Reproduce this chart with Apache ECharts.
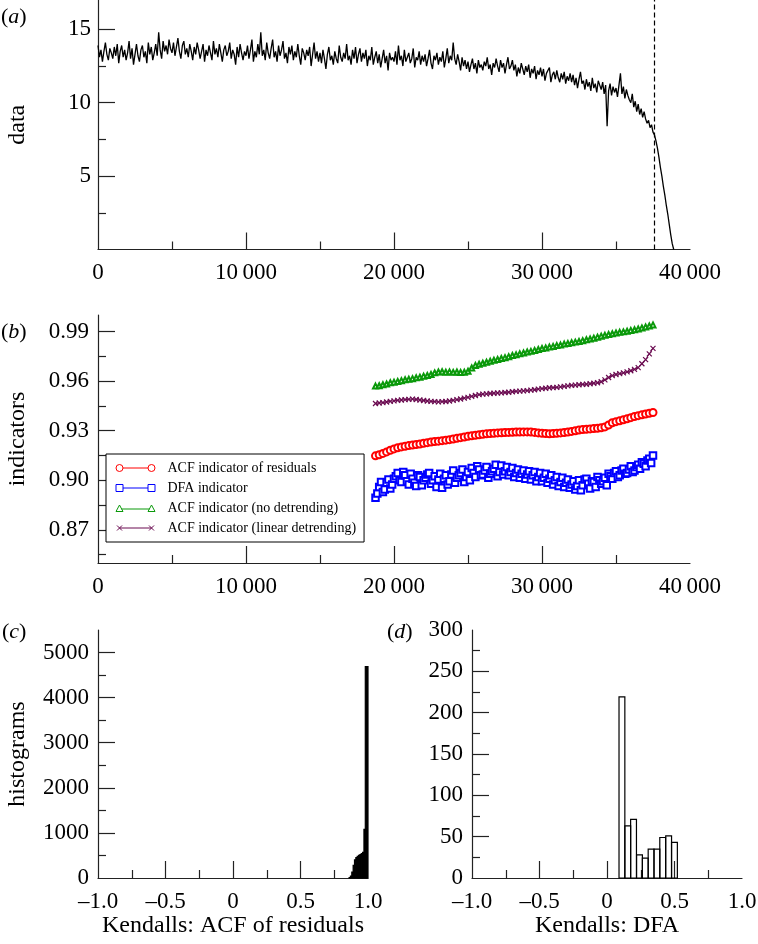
<!DOCTYPE html>
<html>
<head>
<meta charset="utf-8">
<script src="https://cdn.jsdelivr.net/npm/echarts@6/dist/echarts.min.js"></script>
<style>html,body{margin:0;padding:0;background:#fff;}#c{width:758px;height:944px;}</style>
</head>
<body>
<div id="c"></div>
<script>
// ---------- DATA ----------
// (a) time series, sampled every 100 time units starting at 0
const seriesTimeStart = 0;
const seriesTimeStep = 100;
const seriesValues = [
13.9,13.1,13.6,12.8,13.5,14.1,13.3,12.9,13.7,13.4,
13.0,13.8,13.2,14.0,12.7,13.5,13.9,13.1,13.6,12.9,
13.4,14.2,13.0,13.7,12.6,13.3,14.0,13.2,12.8,13.6,
13.9,13.1,13.5,12.7,14.1,13.3,13.8,12.9,13.4,14.0,
13.2,14.8,13.6,13.0,14.2,13.5,13.9,13.3,14.3,13.7,
13.4,14.1,13.2,13.8,14.4,13.5,13.0,13.9,14.2,13.3,
13.7,13.1,14.0,13.5,12.9,13.8,13.3,14.1,13.6,13.0,
13.5,14.0,12.8,13.6,13.2,13.9,13.4,12.9,14.2,13.3,
13.7,13.1,14.0,13.4,12.8,13.6,13.9,13.2,13.5,14.1,
13.0,13.6,13.3,12.6,13.8,13.1,14.0,13.4,12.9,13.5,
13.2,13.9,13.0,13.6,14.3,12.8,13.5,13.1,14.0,13.3,
14.8,13.2,13.6,12.9,14.1,13.4,13.0,13.7,14.3,13.1,
13.5,12.8,13.9,13.2,13.6,14.2,13.0,13.4,12.7,13.8,
13.3,13.9,12.9,13.5,13.1,14.0,13.2,12.6,13.7,13.4,
12.9,13.6,13.2,13.8,12.5,13.3,14.1,13.0,13.5,12.8,
13.4,12.7,13.6,13.0,12.3,13.3,13.8,12.9,13.2,12.6,
13.5,13.0,12.7,13.9,13.1,12.8,13.4,13.0,14.0,12.9,
13.2,12.6,13.6,13.0,13.8,12.7,13.3,13.7,12.8,13.4,
13.0,13.6,12.5,13.2,12.9,13.8,12.6,13.1,13.5,12.7,
13.3,12.4,13.0,13.6,12.7,13.2,12.2,13.4,12.9,13.1,
12.8,13.5,12.6,13.9,12.9,13.2,12.5,13.6,12.8,13.1,
13.4,12.7,13.0,13.7,12.4,13.1,12.9,13.5,12.6,13.2,
12.8,13.3,12.5,13.0,13.6,12.7,12.3,13.2,12.9,13.4,
12.6,13.1,12.8,13.5,12.4,13.0,13.7,12.7,13.2,12.9,
14.1,13.0,12.6,13.3,12.8,12.2,13.1,12.5,12.9,12.3,
12.8,12.1,12.6,13.0,12.3,12.7,12.0,12.9,12.4,12.6,
12.2,12.8,12.5,13.1,12.3,12.6,11.9,12.7,12.4,13.0,
12.5,12.1,12.9,12.4,12.7,12.0,12.6,13.1,12.3,12.5,
12.9,12.2,12.6,11.8,12.4,12.0,12.7,12.3,11.9,12.5,
12.1,12.6,11.7,12.3,12.0,12.5,11.6,12.2,11.9,12.4,
11.8,12.3,11.5,12.0,11.9,12.4,11.4,11.9,12.1,11.6,
12.2,11.7,11.4,12.0,11.6,12.1,11.3,11.8,11.5,12.0,
11.4,11.9,11.2,11.7,11.0,11.6,12.1,11.3,11.5,10.9,
11.6,11.1,11.4,10.8,11.7,11.0,11.3,10.7,11.5,11.2,
10.9,11.4,10.6,11.2,8.4,10.8,11.3,10.5,11.1,10.7,
11.0,10.4,11.2,12.0,10.6,11.1,10.3,10.9,10.5,10.2,
10.0,10.6,9.7,10.1,9.4,9.9,9.2,9.6,9.0,9.4,
8.9,8.6,8.8,8.3,8.5,8.0,7.8,7.4,6.9,6.3,
5.6,5.0,4.3,3.7,3.0,2.4,1.7,1.0,0.4,0.0
];
const transitionTime = 37570;

// (b) indicators, evaluated every 250 time units starting at 18750
const indicatorTimeStart = 18750;
const indicatorTimeStep = 250;
const acfResiduals = [
.9148,.9155,.9163,.9172,.9182,.9190,.9197,.9202,.9206,.9210,
.9213,.9217,.9220,.9224,.9228,.9232,.9235,.9237,.9240,.9243,
.9246,.9250,.9254,.9258,.9262,.9266,.9270,.9273,.9276,.9279,
.9281,.9283,.9285,.9287,.9288,.9289,.9290,.9291,.9292,.9292,
.9293,.9293,.9292,.9290,.9287,.9285,.9283,.9282,.9283,.9285,
.9287,.9289,.9292,.9296,.9300,.9304,.9307,.9309,.9311,.9313,
.9315,.9318,.9323,.9335,.9348,.9355,.9360,.9366,.9372,.9379,
.9386,.9391,.9396,.9401,.9406,.9410
];
// DFA indicator, evaluated every 125 time units starting at 18750
const dfaTimeStep = 125;
const dfaIndicator = [
.8895,.8920,.8960,.8990,.8930,.8945,.8985,.9005,.8950,.8975,
.9010,.9025,.9045,.9000,.8990,.9050,.9030,.8995,.8975,.9040,
.9010,.8985,.8965,.9030,.9020,.8970,.9000,.9015,.9035,.9045,
.8980,.9000,.9025,.8960,.9005,.9040,.8955,.9010,.9030,.8975,
.8995,.9035,.9060,.8985,.9015,.9030,.9045,.9065,.8990,.9020,
.9050,.9000,.9075,.9045,.9020,.9085,.9065,.9030,.9035,.9060,
.9080,.9015,.9040,.9055,.9070,.9095,.9025,.9050,.9090,.9035,
.9055,.9080,.9030,.9050,.9075,.9020,.9045,.9065,.9015,.9040,
.9060,.9010,.9035,.9055,.9005,.9030,.9050,.8995,.9020,.9045,
.8995,.9015,.9040,.8985,.9010,.9030,.8975,.9000,.9020,.8965,
.8990,.9015,.8960,.8985,.9005,.8955,.8975,.8995,.8945,.8965,
.9000,.8940,.8970,.9005,.9010,.8980,.8950,.8995,.8990,.8960,
.9020,.9000,.8980,.8995,.9015,.8970,.9040,.9025,.9010,.9045,
.9055,.9020,.9030,.9060,.9070,.9040,.9045,.9065,.9085,.9050,
.9060,.9080,.9095,.9070,.9110,.9100,.9085,.9120,.9130,.9105,
.9150
];
const acfNoDetrending = [
.9570,.9572,.9578,.9583,.9590,.9594,.9598,.9603,.9608,.9611,
.9615,.9620,.9624,.9630,.9634,.9640,.9650,.9655,.9657,.9654,
.9656,.9653,.9655,.9652,.9654,.9660,.9680,.9695,.9702,.9708,
.9714,.9720,.9726,.9731,.9737,.9742,.9748,.9755,.9759,.9765,
.9770,.9776,.9780,.9786,.9791,.9797,.9800,.9806,.9810,.9815,
.9818,.9824,.9827,.9832,.9836,.9840,.9845,.9850,.9855,.9860,
.9866,.9872,.9877,.9882,.9887,.9891,.9895,.9898,.9902,.9907,
.9911,.9916,.9922,.9928,.9934,.9940
];
const acfLinearDetrending = [
.9465,.9468,.9470,.9474,.9478,.9481,.9484,.9486,.9488,.9490,
.9491,.9489,.9486,.9483,.9480,.9478,.9476,.9475,.9476,.9477,
.9480,.9484,.9488,.9492,.9497,.9502,.9508,.9513,.9518,.9521,
.9523,.9525,.9527,.9528,.9529,.9531,.9533,.9536,.9538,.9540,
.9541,.9543,.9546,.9548,.9552,.9555,.9557,.9560,.9561,.9562,
.9565,.9568,.9571,.9574,.9576,.9578,.9580,.9581,.9584,.9587,
.9590,.9596,.9608,.9622,.9633,.9640,.9645,.9650,.9656,.9663,
.9671,.9682,.9705,.9730,.9765,.9798
];
const legendNames = ['ACF indicator of residuals','DFA indicator','ACF indicator (no detrending)','ACF indicator (linear detrending)'];

// (c) histogram of Kendall tau, ACF of residuals
const kendallAcfBinStart = [0.86,0.87,0.88,0.89,0.90,0.91,0.92,0.93,0.94,0.95,0.96,0.97,0.98,0.99];
const kendallAcfBinWidth = 0.01;
const kendallAcfCounts = [10,40,130,280,400,450,480,500,520,540,570,1080,4690,4690];

// (d) histogram of Kendall tau, DFA
const kendallDfaBinStart = [0.089,0.132,0.175,0.219,0.262,0.305,0.348,0.391,0.435,0.478];
const kendallDfaBinWidth = 0.0432;
const kendallDfaCounts = [219,63,71,28,24,35,35,49,51,43];

// axis ticks
const timeLabels = [0,10000,20000,30000,40000];
const timeTicks = [10000,20000,30000];
const dataLabels = [5,10,15], dataMinor = [2.5,7.5,12.5];
const indLabels = [0.87,0.90,0.93,0.96,0.99], indMinor = [0.855,0.885,0.915,0.945,0.975];
const kLabels = [-1,-0.5,0,0.5,1], kTicks = [-0.5,0,0.5];
const histCLabels = [0,1000,2000,3000,4000,5000], histCMajor = [1000,2000,3000,4000,5000], histCMinor = [500,1500,2500,3500,4500];
const histDLabels = [0,50,100,150,200,250,300], histDMajor = [50,100,150,200,250], histDMinor = [25,75,125,175,225,275];

// ---------- CHART ----------
const FONT = 'Liberation Serif';
const AX = '#222';
const axLine = {color: AX, width: 1.2};
const RED = '#ff0000', BLUE = '#0000ff', GREEN = '#0a990a', PURPLE = '#6a0a50';

function yAxes(grid, min, max, labels, major, minor, name, fmt, margin) {
  return [{
    type: 'value', gridIndex: grid, position: 'left', min: min, max: max,
    name: name, nameLocation: 'middle', nameGap: 68,
    nameTextStyle: {fontFamily: FONT, fontSize: 24, color: '#000'},
    axisLine: {show: true, onZero: false, lineStyle: axLine},
    axisTick: {show: true, inside: true, length: 17, customValues: major, lineStyle: axLine},
    axisLabel: {show: true, customValues: labels, margin: margin, fontFamily: FONT, fontSize: 23, color: '#000', formatter: fmt},
    splitLine: {show: false}
  }, {
    type: 'value', gridIndex: grid, position: 'left', min: min, max: max,
    axisLine: {show: false, onZero: false},
    axisTick: {show: true, inside: true, length: 8, customValues: minor, lineStyle: axLine},
    axisLabel: {show: false}, splitLine: {show: false}
  }];
}
function xAxis(grid, min, max, interval, ticks, labels, fmt, name) {
  return {
    type: 'value', gridIndex: grid, position: 'bottom', min: min, max: max, interval: interval,
    name: name || '', nameLocation: 'middle', nameGap: 36,
    nameTextStyle: {fontFamily: FONT, fontSize: 24, color: '#000'},
    axisLine: {show: true, onZero: false, lineStyle: axLine},
    axisTick: {show: true, inside: true, length: 17, customValues: ticks, lineStyle: axLine},
    minorTick: {show: true, splitNumber: 2, length: 8, lineStyle: axLine},
    axisLabel: {show: true, customValues: labels, margin: 12, fontFamily: FONT, fontSize: 23, color: '#000', formatter: fmt},
    splitLine: {show: false}, minorSplitLine: {show: false}
  };
}
const fmtTime = v => v === 0 ? '0' : (v / 1000) + '\u2009000';
const fmtK = v => v === 0 ? '0' : (v < 0 ? '\u2013' : '') + Math.abs(v).toFixed(1);

const seriesData = seriesValues.map((v, i) => [seriesTimeStart + i * seriesTimeStep, v]);
const indData = (arr, step) => arr.map((v, i) => [indicatorTimeStart + i * step, v]);
const histData = (starts, w, counts) => starts.map((s, i) => [s, s + w, counts[i]]);

function histRender(fill) {
  return function (params, api) {
    const p0 = api.coord([api.value(0), api.value(2)]);
    const p1 = api.coord([api.value(1), 0]);
    return {type: 'rect', shape: {x: p0[0], y: p0[1], width: p1[0] - p0[0], height: p1[1] - p0[1]},
      style: {fill: fill, stroke: '#000', lineWidth: 1.2}};
  };
}

const bb = 'M0,0M47,8';
const icons = [
  'path://' + bb + 'M0.5,4A3.5,3.5,0,1,1,7.5,4A3.5,3.5,0,1,1,0.5,4ZM7.5,4L32.5,4M32.5,4A3.5,3.5,0,1,1,39.5,4A3.5,3.5,0,1,1,32.5,4Z',
  'path://' + bb + 'M0.5,0.5L7.5,0.5L7.5,7.5L0.5,7.5ZM7.5,4L32.5,4M32.5,0.5L39.5,0.5L39.5,7.5L32.5,7.5Z',
  'path://' + bb + 'M0.5,7.5L4,1L7.5,7.5ZM6,5L34,5M32.5,7.5L36,1L39.5,7.5Z',
  'path://' + bb + 'M1.5,1.5L6.5,6.5M1.5,6.5L6.5,1.5M4,4L36,4M33.5,1.5L38.5,6.5M33.5,6.5L38.5,1.5'
];
const lColors = [RED, BLUE, GREEN, PURPLE];

const rich = {
  n: {fontFamily: FONT, fontSize: 22, color: '#000', fontWeight: 'normal'},
  i: {fontFamily: FONT, fontSize: 22, color: '#000', fontStyle: 'italic', fontWeight: 'normal'}
};
const panelTitle = (letter, left, top) => ({text: '{n|(}{i|' + letter + '}{n|)}', left: left, top: top, padding: 0,
  textStyle: {fontWeight: 'normal', fontFamily: FONT, rich: rich}});

const chart = echarts.init(document.getElementById('c'), null, {renderer: 'canvas'});
chart.setOption({
  animation: false,
  backgroundColor: '#fff',
  title: [panelTitle('a', 1, 6), panelTitle('b', 1, 321), panelTitle('c', 2, 621), panelTitle('d', 387, 621)],
  grid: [
    {left: 98, top: 0, width: 592, height: 249.5, outerBoundsMode: 'none'},
    {left: 98, top: 315, width: 592, height: 248, outerBoundsMode: 'none'},
    {left: 98, top: 630, width: 270, height: 248, outerBoundsMode: 'none'},
    {left: 472, top: 630, width: 270, height: 248, outerBoundsMode: 'none'}
  ],
  xAxis: [
    xAxis(0, 0, 40000, 10000, timeTicks, timeLabels, fmtTime),
    xAxis(1, 0, 40000, 10000, timeTicks, timeLabels, fmtTime),
    xAxis(2, -1, 1, 0.5, kTicks, kLabels, fmtK, 'Kendalls: ACF of residuals'),
    xAxis(3, -1, 1, 0.5, kTicks, kLabels, fmtK, 'Kendalls: DFA')
  ],
  yAxis: [].concat(
    yAxes(0, 0, 17, dataLabels, dataLabels, dataMinor, 'data', v => String(v), 7),
    yAxes(1, 0.85, 1.0, indLabels, indLabels, indMinor, 'indicators', v => v.toFixed(2), 9),
    yAxes(2, 0, 5500, histCLabels, histCMajor, histCMinor, 'histograms', v => String(v), 9),
    yAxes(3, 0, 300, histDLabels, histDMajor, histDMinor, '', v => String(v), 9)
  ),
  legend: {
    orient: 'vertical', left: 106, top: 454, padding: [6, 8, 6, 9], itemGap: 4,
    itemWidth: 47, itemHeight: 8, backgroundColor: '#fff', borderColor: '#000', borderWidth: 1,
    selectedMode: false,
    textStyle: {fontFamily: FONT, fontSize: 14, color: '#000', lineHeight: 16},
    data: legendNames.map((n, i) => ({name: n, icon: icons[i],
      itemStyle: {color: 'rgba(0,0,0,0)', borderColor: lColors[i], borderWidth: 1}}))
  },
  series: [
    {type: 'line', xAxisIndex: 0, yAxisIndex: 0, data: seriesData, showSymbol: false, symbol: 'none',
      lineStyle: {color: '#000', width: 1.3}, silent: true,
      markLine: {silent: true, symbol: ['none', 'none'], label: {show: false},
        lineStyle: {color: '#000', width: 1.2, type: [5, 3]}, data: [{xAxis: transitionTime}]}},
    {type: 'line', name: legendNames[0], xAxisIndex: 1, yAxisIndex: 2, data: indData(acfResiduals, indicatorTimeStep),
      symbol: 'emptyCircle', symbolSize: 7, showAllSymbol: true,
      itemStyle: {color: RED, borderWidth: 1}, lineStyle: {color: RED, width: 1}},
    {type: 'line', name: legendNames[1], xAxisIndex: 1, yAxisIndex: 2, data: indData(dfaIndicator, dfaTimeStep),
      symbol: 'emptyRect', symbolSize: 6.5, showAllSymbol: true,
      itemStyle: {color: BLUE, borderWidth: 1}, lineStyle: {color: BLUE, width: 1}},
    {type: 'line', name: legendNames[2], xAxisIndex: 1, yAxisIndex: 2, data: indData(acfNoDetrending, indicatorTimeStep),
      symbol: 'emptyTriangle', symbolSize: 5, showAllSymbol: true,
      itemStyle: {color: GREEN, borderWidth: 1}, lineStyle: {color: GREEN, width: 1}},
    {type: 'line', name: legendNames[3], xAxisIndex: 1, yAxisIndex: 2, data: indData(acfLinearDetrending, indicatorTimeStep),
      symbol: 'path://M0,0L10,10M0,10L10,0', symbolSize: 5, showAllSymbol: true,
      itemStyle: {color: PURPLE, borderColor: PURPLE, borderWidth: 1.2}, lineStyle: {color: PURPLE, width: 1}},
    {type: 'custom', xAxisIndex: 2, yAxisIndex: 4, renderItem: histRender('#000'),
      encode: {x: [0, 1], y: 2}, data: histData(kendallAcfBinStart, kendallAcfBinWidth, kendallAcfCounts), silent: true},
    {type: 'custom', xAxisIndex: 3, yAxisIndex: 6, renderItem: histRender('rgba(0,0,0,0)'),
      encode: {x: [0, 1], y: 2}, data: histData(kendallDfaBinStart, kendallDfaBinWidth, kendallDfaCounts), silent: true}
  ]
});
</script>
</body>
</html>
